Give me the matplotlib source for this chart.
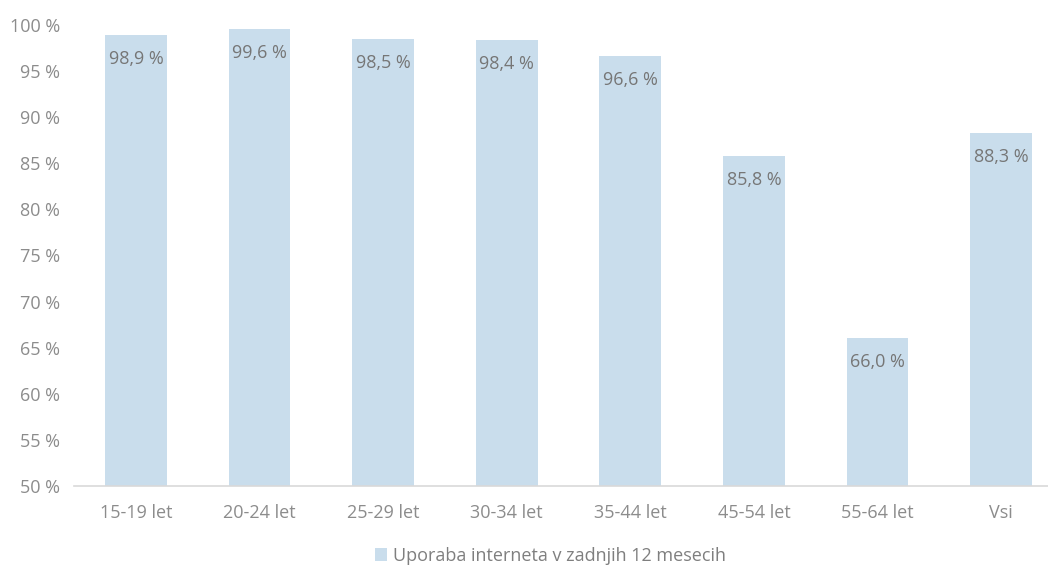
import numpy as np
import matplotlib.pyplot as plt
from matplotlib.patches import Patch

categories = ['15-19 let', '20-24 let', '25-29 let', '30-34 let', '35-44 let', '45-54 let', '55-64 let', 'Vsi']
values = [98.9, 99.6, 98.5, 98.4, 96.6, 85.8, 66.0, 88.3]
yticks = np.arange(50, 101, 5)
series_name = 'Uporaba interneta v zadnjih 12 mesecih'

bar_color = '#C9DDEC'
text_color = '#7F7F7F'

plt.rcParams['font.family'] = ['Open Sans', 'DejaVu Sans']

fig = plt.figure(figsize=(10.48, 5.68), dpi=100)
ax = fig.add_axes([74.2 / 1048, 82 / 568, (1048 - 74.2) / 1048, (486 - 25) / 568])

x = np.arange(len(categories))
bars = ax.bar(x, values, width=0.5, color=bar_color)

for xi, v in zip(x, values):
    ax.annotate(f'{v:.1f} %'.replace('.', ','), (xi, v), xytext=(0, -24),
                textcoords='offset pixels', ha='center', va='center',
                fontsize=13, color='#767676')

ax.set_xlim(-0.5, (1048 - 136) / 123.6)
ax.set_ylim(50, 100)
ax.set_yticks(yticks)
ax.set_yticklabels([f'{t} %' for t in yticks])
ax.set_xticks(x)
ax.set_xticklabels(categories)
ax.tick_params(axis='both', length=0, labelsize=13, labelcolor='#8C8C8C')
ax.tick_params(axis='x', pad=13)
ax.tick_params(axis='y', pad=10)

for s in ['top', 'right', 'left']:
    ax.spines[s].set_visible(False)
ax.spines['bottom'].set_color('#D9D9D9')
ax.spines['bottom'].set_linewidth(1.2)

handle = Patch(facecolor=bar_color, edgecolor='none')
fig.legend([handle], [series_name], loc='center', bbox_to_anchor=(0.525, 1 - 556 / 568),
           frameon=False, fontsize=13, labelcolor='#7F7F7F', handlelength=0.7,
           handleheight=0.7, handletextpad=0.3)

fig.savefig('out.png', dpi=100)
